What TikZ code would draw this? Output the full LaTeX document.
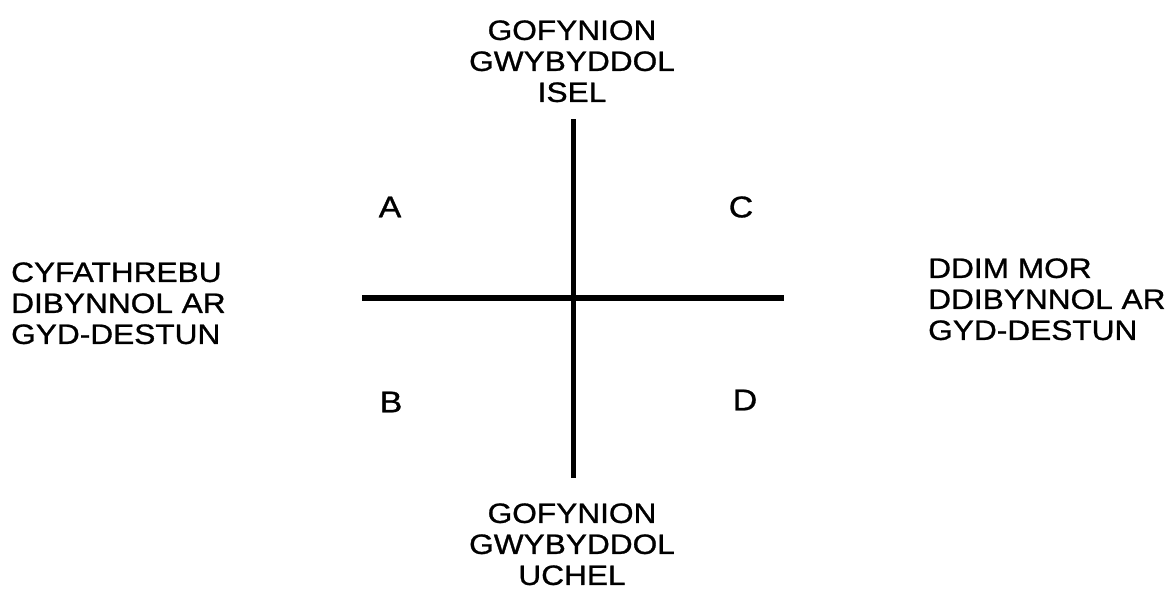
\documentclass[tikz,border=0pt]{standalone}
\usepackage{fontspec}
\setmainfont{Liberation Sans}
\newfontfamily\thickfont[FakeBold=0.9]{Liberation Sans}
\usepackage{graphicx}
\newcommand{\wlbl}[2]{\scalebox{1.13}[1]{\begin{tabular}{@{}#1@{}}#2\end{tabular}}}
\begin{document}
\begin{tikzpicture}[x=1pt,y=-1pt,
  axisline/.style={line width=5.5pt},
  lab/.style={inner sep=0pt, font=\thickfont\fontsize{28}{31}\selectfont},
  quad/.style={inner sep=0pt, font=\thickfont\fontsize{30}{34}\selectfont}]
\useasboundingbox (0,0) rectangle (1169,590);
\node[lab, anchor=north] (top) at (572,18) {\wlbl{c}{GOFYNION\\GWYBYDDOL\\ISEL}};
\node[lab, anchor=north] (bottom) at (572,501) {\wlbl{c}{GOFYNION\\GWYBYDDOL\\UCHEL}};
\node[lab, anchor=north west] (left) at (11,260) {\wlbl{l}{CYFATHREBU\\DIBYNNOL AR\\GYD-DESTUN}};
\node[lab, anchor=north west] (right) at (928,256) {\wlbl{l}{DDIM MOR\\DDIBYNNOL AR\\GYD-DESTUN}};
\coordinate (vt) at (573.5,119);
\coordinate (vb) at (573.5,478);
\coordinate (hl) at (362,298);
\coordinate (hr) at (784,298);
\draw[axisline] (vt) -- (vb);
\draw[axisline] (hl) -- (hr);
\node[quad] (A) at (390,207) {\scalebox{1.13}[1]{A}};
\node[quad] (B) at (391,402) {\scalebox{1.13}[1]{B}};
\node[quad] (C) at (741,207) {\scalebox{1.13}[1]{C}};
\node[quad] (D) at (745,400) {\scalebox{1.13}[1]{D}};
\end{tikzpicture}
\end{document}
